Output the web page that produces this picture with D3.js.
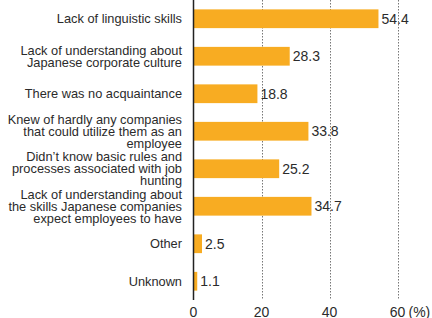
<!DOCTYPE html>
<html>
<head>
<meta charset="utf-8">
<script src="https://cdn.jsdelivr.net/npm/d3@7"></script>
<style>
  body { margin: 0; background: #fff; }
  text { font-family: "Liberation Sans", Arial, sans-serif; fill: #2b2b2b; }
</style>
</head>
<body>
<svg id="chart" width="432" height="318"></svg>
<script>
// reasons (each entry split into display lines)
const categories = [
  ["Lack of linguistic skills"],
  ["Lack of understanding about", "Japanese corporate culture"],
  ["There was no acquaintance"],
  ["Knew of hardly any companies", "that could utilize them as an", "employee"],
  ["Didn\u2019t know basic rules and", "processes associated with job", "hunting"],
  ["Lack of understanding about", "the skills Japanese companies", "expect employees to have"],
  ["Other"],
  ["Unknown"]
]
const values = [54.4, 28.3, 18.8, 33.8, 25.2, 34.7, 2.5, 1.1]
const ticks = [0, 20, 40, 60]

const svg = d3.select("#chart")
const x0 = 193.5
const plotTop = 0, plotBottom = 300

const x = d3.scaleLinear().domain([0, 70]).range([x0, x0 + 238])
const y = d3.scaleBand().domain(d3.range(values.length)).range([plotTop, plotBottom]).paddingInner(0.5).paddingOuter(0.25)

// gridlines
svg.append("g").selectAll("line")
  .data(ticks.filter(d => d > 0))
  .join("line")
  .attr("x1", d => Math.round(x(d)) + 0.5)
  .attr("x2", d => Math.round(x(d)) + 0.5)
  .attr("y1", plotTop)
  .attr("y2", plotBottom)
  .attr("stroke", "#777")
  .attr("stroke-width", 1)
  .attr("stroke-dasharray", "1.5,1.5")

// bars
svg.append("g").selectAll("rect")
  .data(values)
  .join("rect")
  .attr("x", x(0))
  .attr("y", (d, i) => y(i))
  .attr("width", d => x(d) - x(0))
  .attr("height", y.bandwidth())
  .attr("fill", "#F8AC22")

// value labels
svg.append("g").selectAll("text")
  .data(values)
  .join("text")
  .attr("x", d => x(d) + 3)
  .attr("y", (d, i) => y(i) + y.bandwidth() / 2)
  .attr("dy", "0.36em")
  .style("font-size", "14px")
  .text(d => d3.format(".1f")(d))

// category labels
const lineH = 12
const lab = svg.append("g").selectAll("text")
  .data(categories)
  .join("text")
  .attr("text-anchor", "end")
  .style("font-size", "12.8px")
  .attr("transform", (d, i) => `translate(182,${y(i) + y.bandwidth() / 2})`)

lab.selectAll("tspan")
  .data(d => d.map((t, k) => ({ t, k, n: d.length })))
  .join("tspan")
  .attr("x", 0)
  .attr("y", d => (d.k - (d.n - 1) / 2) * lineH)
  .attr("dy", "0.36em")
  .text(d => d.t)

// axis line
svg.append("line")
  .attr("x1", x(0)).attr("x2", x(0))
  .attr("y1", plotTop).attr("y2", plotBottom)
  .attr("stroke", "#222")
  .attr("stroke-width", 1.5)

// tick labels
svg.append("g").selectAll("text")
  .data(ticks)
  .join("text")
  .attr("x", d => x(d))
  .attr("y", 311.5)
  .attr("dy", "0.36em")
  .attr("text-anchor", "middle")
  .style("font-size", "14px")
  .text(d => d)

svg.append("text")
  .attr("x", x(60) + 11)
  .attr("y", 311.5)
  .attr("dy", "0.36em")
  .style("font-size", "14px")
  .text("(%)")
</script>
</body>
</html>
